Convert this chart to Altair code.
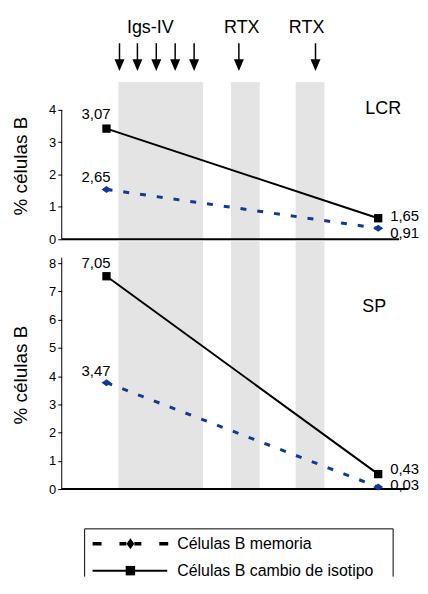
import altair as alt
import pandas as pd

FONT = "Liberation Sans"
AZUL = "#0d3b96"
GRIS = "#e4e4e4"

# ---- data ----
x_tiempos = [5.17, 36.55]
lcr_cambio = [3.42, 0.65]
lcr_memoria = [1.54, 0.34]
sp_cambio = [7.54, 0.53]
sp_memoria = [3.77, 0.07]
lcr_cambio_txt = ["3,07", "1,65"]
lcr_memoria_txt = ["2,65", "0,91"]
sp_cambio_txt = ["7,05", "0,43"]
sp_memoria_txt = ["3,47", "0,03"]
bandas_ini = [6.55, 19.54, 27.01]
bandas_fin = [16.32, 22.87, 30.34]
flechas_x = [6.67, 8.74, 10.92, 13.10, 15.29, 20.46, 29.31]
trat_txt = ["Igs-IV", "RTX", "RTX"]
trat_x = [10.23, 20.8, 28.28]
lcr_ticks = [0, 1, 2, 3, 4]
sp_ticks = [0, 1, 2, 3, 4, 5, 6, 7, 8]
leyenda = ["Células B memoria", "Células B cambio de isotipo"]
paneles = ["LCR", "SP"]

W = 348
XS = alt.Scale(domain=[0, 40])
DIAMANTE = "M-1,0L0,-0.7L1,0L0,0.7Z"
DIAMANTE_LEG = "M-0.7,0L0,-1L0.7,0L0,1Z"
FLECHA = "M-1,-1.2L1,-1.2L0,1.2Z"

dummy = pd.DataFrame({"a": [0]})

# ---- panel A: arrows ----
df_fl = pd.DataFrame({"x": flechas_x})
df_tr = pd.DataFrame({"x": trat_x, "t": trat_txt})
shaft = alt.Chart(df_fl).mark_rule(color="black", strokeWidth=1.5).encode(
    x=alt.X("x:Q", scale=XS, axis=None), y=alt.value(34), y2=alt.value(53))
head = alt.Chart(df_fl).mark_point(shape=FLECHA, filled=True, color="black",
                                   size=100, opacity=1).encode(
    x=alt.X("x:Q", scale=XS, axis=None), y=alt.value(56))
trat = alt.Chart(df_tr).mark_text(font=FONT, fontSize=18, baseline="middle",
                                  color="black").encode(
    x=alt.X("x:Q", scale=XS, axis=None), y=alt.value(19), text="t:N")
panelA = alt.layer(shaft, head, trat).properties(width=W, height=73)


def panel(nombre, cambio, memoria, c_txt, m_txt, ticks, ymax, height,
          axis_top, base_end, title_y, dys, nombre_pos, band_top):
    YS = alt.Scale(domain=[0, ymax])
    dfc = pd.DataFrame({"x": x_tiempos, "v": cambio, "t": c_txt})
    dfm = pd.DataFrame({"x": x_tiempos, "v": memoria, "t": m_txt})
    dfb = pd.DataFrame({"x": bandas_ini, "x2": bandas_fin})
    X = alt.X("x:Q", scale=XS, axis=None)
    Y = alt.Y("v:Q", scale=YS, axis=alt.Axis(values=ticks, title="% células B",
                                              titleX=-31, titleY=title_y))

    bands = alt.Chart(dfb).mark_rect(color=GRIS).encode(
        x=alt.X("x:Q", scale=XS, axis=None), x2="x2:Q",
        y=alt.value(band_top), y2=alt.value(height))
    axline = alt.Chart(pd.DataFrame({"v": [0], "v2": [axis_top]})).mark_rule(
        color="black", strokeWidth=1).encode(x=alt.value(0), y=Y, y2="v2:Q")
    base = alt.Chart(pd.DataFrame({"x": [0], "x2": [base_end], "v": [0]})).mark_rule(
        color="black", strokeWidth=2).encode(x=X, x2="x2:Q", y=Y)
    lc = alt.Chart(dfc).mark_line(color="black", strokeWidth=2).encode(x=X, y=Y)
    lm = alt.Chart(dfm).mark_line(color=AZUL, strokeWidth=3,
                                  strokeDash=[6, 11]).encode(x=X, y=Y)
    pc = alt.Chart(dfc).mark_point(shape="square", filled=True, color="black",
                                   size=70, opacity=1).encode(x=X, y=Y)
    pm = alt.Chart(dfm).mark_point(shape=DIAMANTE, filled=True, color=AZUL,
                                   size=100, opacity=1).encode(x=X, y=Y)
    layers = [bands, axline, base, lc, lm, pc, pm]
    for df, i, dy in [(dfc, 0, dys[0]), (dfm, 0, dys[1]),
                      (dfc, 1, dys[2]), (dfm, 1, dys[3])]:
        sub = df.iloc[[i]]
        if i == 0:
            mk = alt.Chart(sub).mark_text(font=FONT, fontSize=15, align="right",
                                          baseline="middle", dx=4, dy=dy,
                                          color="black")
        else:
            mk = alt.Chart(sub).mark_text(font=FONT, fontSize=15, align="left",
                                          baseline="middle", dx=12, dy=dy,
                                          color="black")
        layers.append(mk.encode(x=X, y=Y, text="t:N"))
    lab = alt.Chart(dummy).mark_text(font=FONT, fontSize=18, baseline="middle",
                                     align="center", color="black",
                                     text=nombre).encode(
        x=alt.value(nombre_pos[0]), y=alt.value(nombre_pos[1]))
    layers.append(lab)
    return alt.layer(*layers).properties(width=W, height=height)


panelB = panel(paneles[0], lcr_cambio, lcr_memoria, lcr_cambio_txt, lcr_memoria_txt,
               lcr_ticks, 4.86, 158, 4, 38.97, 84, [-15, -12, -2, 5], (323, 27), 0)
panelC = panel(paneles[1], sp_cambio, sp_memoria, sp_cambio_txt, sp_memoria_txt,
               sp_ticks, 8.85, 251, 8.2, 40, 136, [-13, -12, -5, -2], (314, 68), 2)

# ---- panel D: legend ----
rb = alt.Chart(dummy)
legend_layers = [
    rb.mark_rule(color="black", strokeWidth=1).encode(
        x=alt.value(23), x2=alt.value(333), y=alt.value(40)),
    rb.mark_rule(color="black", strokeWidth=1).encode(
        x=alt.value(23), y=alt.value(40), y2=alt.value(88)),
    rb.mark_rule(color="black", strokeWidth=1).encode(
        x=alt.value(333), y=alt.value(40), y2=alt.value(88)),
    rb.mark_rule(color="black", strokeWidth=3.5, strokeDash=[9, 18]).encode(
        x=alt.value(31), x2=alt.value(65), y=alt.value(55)),
    rb.mark_rule(color="black", strokeWidth=3.5, strokeDash=[9, 18]).encode(
        x=alt.value(107), x2=alt.value(73), y=alt.value(55)),
    rb.mark_point(shape=DIAMANTE_LEG, filled=True, color="black", size=121,
                  opacity=1).encode(x=alt.value(69), y=alt.value(55)),
    rb.mark_rule(color="black", strokeWidth=2).encode(
        x=alt.value(31), x2=alt.value(106), y=alt.value(82)),
    rb.mark_point(shape="square", filled=True, color="black", size=90,
                  opacity=1).encode(x=alt.value(69), y=alt.value(82)),
    rb.mark_text(font=FONT, fontSize=16, align="left", baseline="middle",
                 color="black", text=leyenda[0]).encode(
        x=alt.value(116), y=alt.value(55)),
    rb.mark_text(font=FONT, fontSize=16, align="left", baseline="middle",
                 color="black", text=leyenda[1]).encode(
        x=alt.value(116), y=alt.value(82)),
]
panelD = alt.layer(*legend_layers).properties(width=W, height=88)

chart = alt.vconcat(panelA, panelB, panelC, panelD, spacing=0, bounds="flush").properties(
    padding={"left": 4, "top": 0, "right": 0, "bottom": 0}
).configure_view(strokeWidth=0).configure_axis(
    labelFont=FONT, titleFont=FONT, labelColor="black", titleColor="black",
    tickColor="black", grid=False, domain=False, labelFontSize=13,
    titleFontSize=19, titleFontWeight="normal", tickSize=4, labelPadding=2,
    tickWidth=1)

chart.save("out.html", embed_options={"renderer": "svg", "actions": False})
